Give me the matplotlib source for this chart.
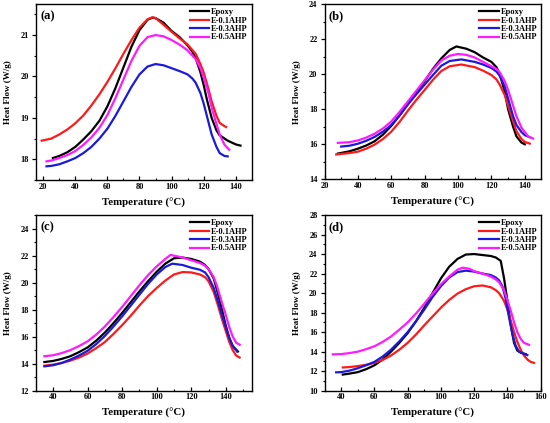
import matplotlib
matplotlib.use("Agg")
import matplotlib.pyplot as plt
from matplotlib.ticker import MultipleLocator

plt.rcParams["font.family"] = ["Liberation Serif", "DejaVu Serif"]
plt.rcParams["font.weight"] = "bold"

labels = ["Epoxy", "E-0.1AHP", "E-0.3AHP", "E-0.5AHP"]
colors = ["#000000", "#ff1a1a", "#1a1adc", "#ff1aff"]

# ---- panel (a) ----
a_epoxy_t = [26, 30, 35, 40, 45, 50, 55, 60, 65, 70, 75, 80, 85, 88, 90, 95, 100, 105, 110, 113, 115, 118, 120, 122, 125, 128, 130, 135, 140, 143]
a_epoxy_h = [18.03, 18.08, 18.17, 18.3, 18.48, 18.68, 18.93, 19.28, 19.72, 20.22, 20.72, 21.12, 21.37, 21.42, 21.41, 21.3, 21.1, 20.95, 20.75, 20.6, 20.45, 20.1, 19.8, 19.45, 19.0, 18.7, 18.58, 18.45, 18.36, 18.33]
a_01_t = [19, 25, 30, 35, 40, 45, 50, 55, 60, 65, 70, 75, 80, 85, 88, 90, 95, 100, 105, 110, 115, 118, 120, 123, 125, 128, 130, 133, 134]
a_01_h = [18.45, 18.5, 18.6, 18.72, 18.87, 19.06, 19.3, 19.57, 19.87, 20.2, 20.55, 20.88, 21.18, 21.38, 21.43, 21.41, 21.25, 21.08, 20.92, 20.77, 20.55, 20.3, 20.1, 19.7, 19.4, 19.05, 18.88, 18.8, 18.78]
a_03_t = [22, 25, 30, 35, 40, 45, 50, 55, 60, 65, 70, 75, 80, 85, 90, 95, 100, 105, 110, 113, 115, 118, 120, 123, 125, 128, 130, 133, 135]
a_03_h = [17.83, 17.84, 17.88, 17.95, 18.03, 18.15, 18.3, 18.5, 18.74, 19.05, 19.4, 19.75, 20.05, 20.24, 20.3, 20.27, 20.2, 20.13, 20.05, 19.95, 19.85, 19.6, 19.35, 18.9, 18.6, 18.3, 18.15, 18.08, 18.07]
a_05_t = [22, 25, 30, 35, 40, 45, 50, 55, 60, 65, 70, 75, 80, 85, 90, 95, 100, 105, 110, 115, 118, 120, 123, 125, 128, 130, 133, 136]
a_05_h = [17.95, 17.97, 18.03, 18.1, 18.2, 18.35, 18.53, 18.76, 19.07, 19.48, 19.93, 20.38, 20.74, 20.95, 21.0, 20.97, 20.88, 20.77, 20.63, 20.42, 20.2, 19.98, 19.6, 19.25, 18.85, 18.6, 18.35, 18.23]

# ---- panel (b) ----
b_epoxy_t = [28, 35, 40, 45, 50, 55, 60, 65, 70, 75, 80, 85, 90, 95, 99, 105, 110, 115, 120, 123, 125, 128, 130, 133, 135, 138, 140]
b_epoxy_h = [15.47, 15.6, 15.75, 15.93, 16.17, 16.55, 17.05, 17.65, 18.3, 18.95, 19.6, 20.3, 20.9, 21.38, 21.58, 21.45, 21.25, 20.95, 20.7, 20.4, 20.0, 19.0, 18.0, 17.0, 16.45, 16.1, 16.0]
b_01_t = [27, 35, 40, 45, 50, 55, 60, 65, 70, 75, 80, 85, 90, 95, 102, 110, 115, 120, 123, 125, 128, 130, 133, 135, 138, 140, 143]
b_01_h = [15.42, 15.5, 15.58, 15.75, 15.98, 16.3, 16.72, 17.28, 17.92, 18.53, 19.1, 19.68, 20.18, 20.45, 20.55, 20.4, 20.2, 19.95, 19.7, 19.4, 18.8, 18.2, 17.3, 16.75, 16.3, 16.13, 16.04]
b_03_t = [30, 35, 40, 45, 50, 55, 60, 65, 70, 75, 80, 85, 90, 95, 102, 110, 115, 120, 123, 125, 128, 130, 133, 135, 138, 140, 143]
b_03_h = [15.87, 15.92, 16.03, 16.2, 16.42, 16.72, 17.1, 17.65, 18.28, 18.85, 19.4, 19.95, 20.48, 20.75, 20.84, 20.7, 20.55, 20.35, 20.15, 19.9, 19.3, 18.6, 17.6, 17.1, 16.7, 16.52, 16.4]
b_05_t = [28, 35, 40, 45, 50, 55, 60, 65, 70, 75, 80, 85, 90, 95, 100, 105, 110, 115, 120, 123, 125, 128, 130, 133, 135, 138, 140, 142, 145]
b_05_h = [16.08, 16.12, 16.22, 16.38, 16.6, 16.9, 17.3, 17.85, 18.45, 19.05, 19.65, 20.25, 20.78, 21.05, 21.15, 21.1, 20.95, 20.7, 20.45, 20.3, 20.1, 19.6, 19.1, 18.2, 17.6, 16.95, 16.7, 16.45, 16.33]

# ---- panel (c) ----
c_epoxy_t = [35, 40, 45, 50, 55, 60, 65, 70, 75, 80, 85, 90, 95, 100, 105, 110, 115, 120, 125, 128, 130, 133, 135, 137, 140, 142, 144, 147]
c_epoxy_h = [14.12, 14.2, 14.35, 14.55, 14.85, 15.2, 15.7, 16.3, 17.0, 17.75, 18.55, 19.35, 20.1, 20.8, 21.4, 21.8, 21.85, 21.75, 21.55, 21.3, 21.0, 20.3, 19.4, 18.4, 16.8, 15.9, 15.3, 14.9]
c_01_t = [35, 40, 45, 50, 55, 60, 65, 70, 75, 80, 85, 90, 95, 100, 105, 110, 115, 120, 125, 128, 130, 133, 135, 138, 140, 142, 144, 146, 148]
c_01_h = [13.85, 13.93, 14.05, 14.22, 14.45, 14.75, 15.15, 15.6, 16.2, 16.85, 17.55, 18.3, 19.0, 19.6, 20.15, 20.6, 20.78, 20.75, 20.6, 20.4, 20.1, 19.3, 18.5, 17.2, 16.4, 15.6, 15.0, 14.6, 14.45]
c_03_t = [35, 40, 45, 50, 55, 60, 65, 70, 75, 80, 85, 90, 95, 100, 105, 109, 115, 120, 125, 128, 130, 133, 135, 138, 140, 142, 144, 146.5]
c_03_h = [13.8, 13.88, 14.05, 14.3, 14.6, 14.95, 15.45, 16.05, 16.75, 17.5, 18.3, 19.1, 19.9, 20.6, 21.15, 21.4, 21.3, 21.1, 20.95, 20.75, 20.4, 19.6, 18.8, 17.5, 16.7, 15.9, 15.3, 14.9]
c_05_t = [35, 40, 45, 50, 55, 60, 65, 70, 75, 80, 85, 90, 95, 100, 105, 108, 115, 120, 125, 128, 130, 133, 135, 138, 140, 142, 144, 146, 148]
c_05_h = [14.55, 14.62, 14.78, 15.0, 15.3, 15.65, 16.15, 16.75, 17.45, 18.2, 19.0, 19.8, 20.55, 21.2, 21.75, 22.05, 21.85, 21.65, 21.45, 21.25, 21.0, 20.4, 19.7, 18.4, 17.6, 16.7, 16.0, 15.55, 15.4]

# ---- panel (d) ----
d_epoxy_t = [41, 45, 50, 55, 60, 65, 70, 75, 80, 85, 90, 95, 100, 105, 110, 115, 120, 125, 130, 133, 136, 138, 140, 142, 144, 146, 148, 151]
d_epoxy_h = [11.65, 11.75, 11.9, 12.2, 12.6, 13.2, 14.0, 14.9, 15.9, 17.1, 18.5, 20.0, 21.5, 22.7, 23.5, 23.95, 24.0, 23.9, 23.8, 23.65, 23.3, 21.5, 19.2, 16.8, 14.9, 14.1, 13.9, 13.75]
d_01_t = [41, 45, 50, 55, 60, 65, 70, 75, 80, 85, 90, 95, 100, 105, 110, 115, 120, 125, 130, 133, 135, 138, 140, 142, 144, 146, 148, 150, 152, 154, 156]
d_01_h = [12.38, 12.42, 12.52, 12.65, 12.85, 13.15, 13.6, 14.2, 14.9, 15.75, 16.7, 17.6, 18.5, 19.3, 19.95, 20.4, 20.7, 20.78, 20.6, 20.3, 20.0, 19.2, 18.3, 17.2, 16.0, 15.0, 14.2, 13.6, 13.2, 12.95, 12.85]
d_03_t = [37, 40, 45, 50, 55, 60, 65, 70, 75, 80, 85, 90, 95, 100, 105, 110, 115, 120, 125, 130, 133, 135, 137, 139, 141, 143, 145, 147, 150, 152]
d_03_h = [11.88, 11.9, 12.05, 12.3, 12.6, 12.95, 13.5, 14.2, 15.05, 16.0, 17.1, 18.3, 19.6, 20.7, 21.6, 22.15, 22.3, 22.2, 22.0, 21.85, 21.6, 21.3, 20.7, 19.4, 17.5, 15.8, 14.6, 14.0, 13.75, 13.65]
d_05_t = [35, 40, 45, 50, 55, 60, 65, 70, 75, 80, 85, 90, 95, 100, 105, 110, 113, 117, 120, 125, 130, 133, 135, 138, 140, 142, 144, 146, 148, 150, 153]
d_05_h = [13.72, 13.75, 13.85, 14.0, 14.25, 14.55, 15.0, 15.55, 16.25, 17.0, 17.9, 18.9, 19.95, 20.9, 21.7, 22.4, 22.6, 22.5, 22.25, 22.0, 21.7, 21.4, 21.1, 20.3, 19.3, 18.2, 17.0, 16.0, 15.3, 14.9, 14.7]

panels = [
    ("(a)", [(a_epoxy_t, a_epoxy_h), (a_01_t, a_01_h), (a_03_t, a_03_h), (a_05_t, a_05_h)],
     (15.3, 150), (17.5, 21.75), 20, 1, [0.065, 0.5745, 0.3927, 0.416]),
    ("(b)", [(b_epoxy_t, b_epoxy_h), (b_01_t, b_01_h), (b_03_t, b_03_h), (b_05_t, b_05_h)],
     (20, 150), (14, 24), 20, 2, [0.590, 0.576, 0.3945, 0.4145]),
    ("(c)", [(c_epoxy_t, c_epoxy_h), (c_01_t, c_01_h), (c_03_t, c_03_h), (c_05_t, c_05_h)],
     (30, 155), (12, 25), 20, 2, [0.065, 0.0764, 0.3927, 0.4153]),
    ("(d)", [(d_epoxy_t, d_epoxy_h), (d_01_t, d_01_h), (d_03_t, d_03_h), (d_05_t, d_05_h)],
     (30, 160.5), (10, 28), 20, 2, [0.590, 0.0764, 0.3945, 0.4153]),
]

fig = plt.figure(figsize=(5.5, 4.23), dpi=100)

for tag, series, xlim, ylim, xstep, ystep, pos in panels:
    ax = fig.add_axes(pos)
    for (t, h), lab, c in zip(series, labels, colors):
        ax.plot(t, h, color=c, lw=1.6, label=lab)
    ax.set_xlim(*xlim)
    ax.set_ylim(*ylim)
    ax.xaxis.set_major_locator(MultipleLocator(xstep))
    ax.xaxis.set_minor_locator(MultipleLocator(xstep / 2))
    ax.yaxis.set_major_locator(MultipleLocator(ystep))
    ax.yaxis.set_minor_locator(MultipleLocator(ystep / 2))
    ax.tick_params(axis="both", which="major", labelsize=6, length=3, width=0.9, pad=2)
    ax.tick_params(axis="both", which="minor", length=1.8, width=0.8)
    ax.tick_params(axis="x", which="both", direction="in")
    ax.tick_params(axis="y", which="both", direction="out")
    for sp in ax.spines.values():
        sp.set_linewidth(1.0)
    ax.set_xlabel("Temperature (°C)", fontsize=7.8, fontweight="bold", labelpad=5)
    ax.set_ylabel("Heat Flow (W/g)", fontsize=6.5, fontweight="bold", labelpad=6)
    ax.text(0.02, 0.965, tag, transform=ax.transAxes, fontsize=9,
            fontweight="bold", va="top", ha="left")
    ax.legend(loc="upper right", frameon=False, handlelength=2.3,
              handletextpad=0.25, labelspacing=0.05, borderaxespad=0.3,
              borderpad=0.2, prop={"weight": "bold", "size": 6})

fig.savefig("out.png", dpi=100)
